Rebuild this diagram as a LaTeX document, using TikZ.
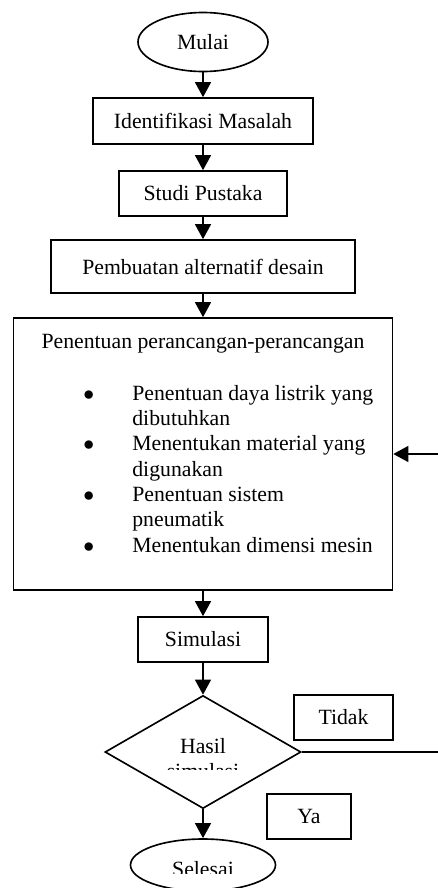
\documentclass[tikz,border=0pt]{standalone}
\usepackage{fontspec}
\setmainfont{Liberation Serif}
\usepackage{tikz}
\usetikzlibrary{shapes.geometric, arrows.meta, positioning}
\newlength\pxu
\setlength\pxu{0.552pt}

\begin{document}
\begin{tikzpicture}[x=0.552pt, y=-0.552pt, font=\fontsize{12}{14}\selectfont,
    kotak/.style={draw, line width=0.9pt, inner sep=0pt, minimum height=45\pxu},
    elips/.style={draw, ellipse, line width=0.9pt, inner sep=0pt, minimum width=130\pxu, minimum height=59\pxu},
    keputusan/.style={draw, diamond, line width=0.9pt, inner sep=0pt, minimum width=196\pxu, minimum height=113\pxu},
    panah/.style={-{Triangle[length=8.3pt,width=8.8pt]}, line width=0.9pt}]
\useasboundingbox (0,0) rectangle (438,888);

\node[elips] (mulai) at (203,42) {Mulai};
\node[kotak, minimum width=220\pxu, minimum height=46\pxu] (identifikasi) at (203,121) {Identifikasi Masalah};
\node[kotak, minimum width=168\pxu] (studi) at (203,193.5) {Studi Pustaka};
\node[kotak, minimum width=304\pxu, minimum height=53\pxu] (alternatif) at (203,266.5) {Pembuatan alternatif desain};
\node[kotak, minimum width=379\pxu, minimum height=272\pxu] (perancangan) at (203,454) {};
\node[anchor=base] (judul) at (203,348) {Penentuan perancangan-perancangan};
\node[anchor=base west, inner sep=0pt] (daftar) at (83,400) {\begin{tabular}[t]{@{}p{49\pxu}@{}l@{}}
$\bullet$ & Penentuan daya listrik yang\\
  & dibutuhkan\\
$\bullet$ & Menentukan material yang\\
  & digunakan\\
$\bullet$ & Penentuan sistem\\
  & pneumatik\\
$\bullet$ & Menentukan dimensi mesin
\end{tabular}};
\node[kotak, minimum width=130\pxu] (simulasi) at (203,639.5) {Simulasi};

% keputusan, teks terpotong seperti aslinya
\node[keputusan] (hasil) at (203,752) {};
\node[anchor=base] (hasilteks) at (203,753) {Hasil};
\begin{scope}
\clip (150,760) rectangle (256,769.5);
\node[anchor=base] (simteks) at (203,778) {simulasi};
\end{scope}

\node[kotak, minimum width=99\pxu] (tidak) at (343.5,717.5) {Tidak};
\node[kotak, minimum width=84\pxu] (ya) at (309,816.5) {Ya};

\node[elips, minimum width=145\pxu, minimum height=52\pxu] (selesai) at (203,865) {};
\begin{scope}
\clip (140,845) rectangle (266,873);
\node[anchor=base] (selesaiteks) at (203,876.5) {Selesai};
\end{scope}

\draw[panah] (mulai) -- (identifikasi);
\draw[panah] (identifikasi) -- (studi);
\draw[panah] (studi) -- (alternatif);
\draw[panah] (alternatif) -- (perancangan);
\draw[panah] (perancangan) -- (simulasi);
\draw[panah] (simulasi) -- (hasil);
\draw[panah] (hasil) -- (selesai);
\coordinate (balik) at (470,752);
\draw[panah] (hasil.east) -- (balik) |- (perancangan.east);
\end{tikzpicture}
\end{document}
